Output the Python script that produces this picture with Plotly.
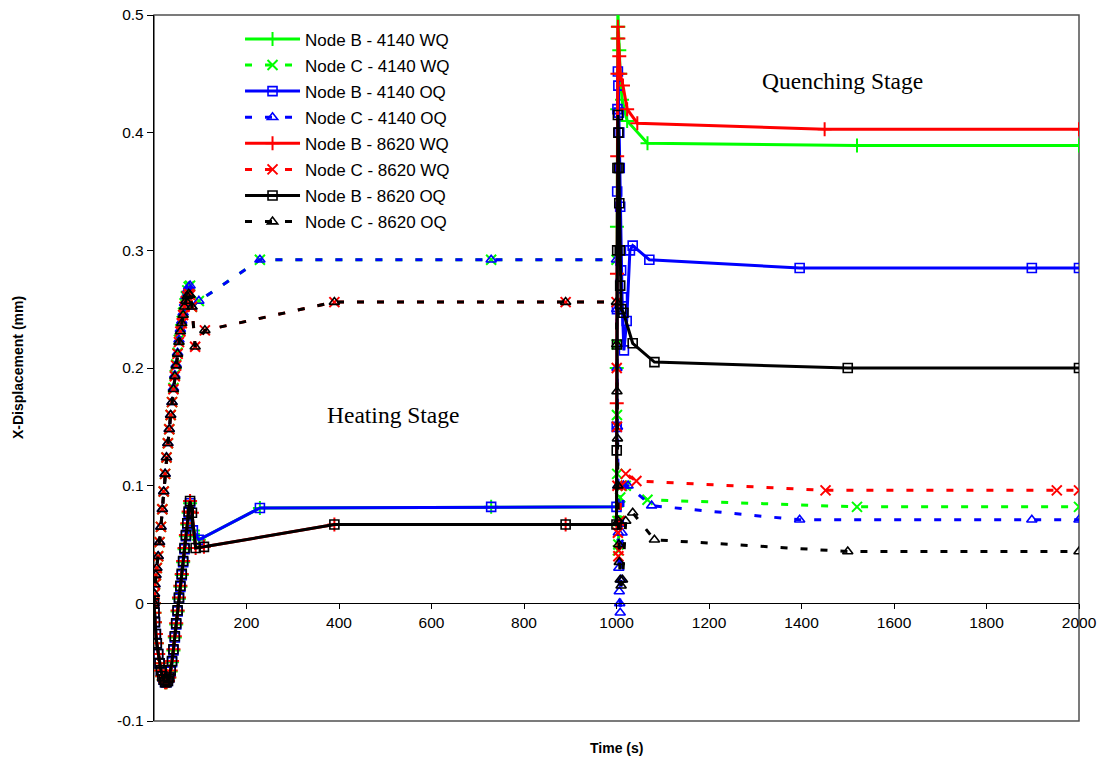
import plotly.graph_objects as go

# ---- Heating stage (0-1000 s) ----
heat_t_rise = [0, 1, 2, 4, 6, 9, 12, 15, 18, 21, 24, 27, 30, 33, 36, 39, 42,
               45, 48, 51, 54, 57, 60, 63, 66, 69, 72, 75, 78]

heat_B_4140_rise = [0, -0.008, -0.016, -0.026, -0.034, -0.043, -0.051, -0.057,
                    -0.062, -0.065, -0.067, -0.067, -0.066, -0.063, -0.058,
                    -0.050, -0.040, -0.029, -0.018, -0.007, 0.004, 0.014,
                    0.024, 0.035, 0.046, 0.057, 0.067, 0.077, 0.085]
heat_B_8620_rise = [0, -0.008, -0.016, -0.026, -0.034, -0.043, -0.051, -0.057,
                    -0.062, -0.065, -0.067, -0.067, -0.066, -0.063, -0.057,
                    -0.049, -0.039, -0.028, -0.017, -0.006, 0.005, 0.015,
                    0.025, 0.036, 0.047, 0.058, 0.068, 0.078, 0.087]
heat_C_4140_rise = [0, 0.008, 0.016, 0.024, 0.030, 0.040, 0.052, 0.065, 0.080,
                    0.095, 0.110, 0.124, 0.136, 0.148, 0.160, 0.171, 0.183,
                    0.194, 0.203, 0.213, 0.224, 0.233, 0.240, 0.247, 0.255,
                    0.261, 0.266, 0.269, 0.270]
heat_C_8620_rise = [0, 0.008, 0.016, 0.024, 0.030, 0.040, 0.052, 0.065, 0.080,
                    0.095, 0.110, 0.124, 0.136, 0.148, 0.160, 0.171, 0.182,
                    0.193, 0.202, 0.212, 0.222, 0.231, 0.238, 0.245, 0.252,
                    0.257, 0.261, 0.263, 0.262]

heat_t_B_4140_tail = [84, 97, 229, 729, 1000]
heat_B_4140_tail = [0.062, 0.054, 0.081, 0.082, 0.082]
heat_t_B_8620_tail = [82, 90, 108, 390, 890, 1000]
heat_B_8620_tail = [0.077, 0.047, 0.048, 0.067, 0.067, 0.067]
heat_t_C_4140_tail = [82, 97, 229, 729, 1000]
heat_C_4140_tail = [0.252, 0.257, 0.292, 0.292, 0.292]
heat_t_C_8620_tail = [82, 89, 110, 390, 890, 1000]
heat_C_8620_tail = [0.252, 0.218, 0.232, 0.256, 0.256, 0.256]

# ---- Quenching stage (1000-2000 s) ----
q_t_B_4140_WQ = [1000.5, 1001, 1001.5, 1002, 1003, 1004, 1006, 1008, 1012, 1023, 1067, 1520, 2000]
q_B_4140_WQ = [0.20, 0.32, 0.42, 0.48, 0.505, 0.49, 0.47, 0.45, 0.428, 0.41, 0.391, 0.389, 0.389]

q_t_C_4140_WQ = [1000.5, 1001, 1001.5, 1002, 1003, 1004, 1006, 1008, 1012, 1020, 1067, 1520, 2000]
q_C_4140_WQ = [0.22, 0.16, 0.11, 0.07, 0.045, 0.05, 0.07, 0.09, 0.10, 0.10, 0.088, 0.082, 0.082]

q_t_B_4140_OQ = [1000.5, 1001, 1001.5, 1002, 1003, 1004, 1005, 1006, 1007, 1008, 1009, 1010,
                 1012, 1016, 1022, 1029, 1035, 1071, 1396, 1898, 2000]
q_B_4140_OQ = [0.15, 0.25, 0.35, 0.42, 0.452, 0.44, 0.417, 0.40, 0.37, 0.337, 0.30, 0.283,
               0.26, 0.215, 0.24, 0.30, 0.304, 0.292, 0.285, 0.285, 0.285]

q_t_C_4140_OQ = [1000.5, 1001, 1002, 1003, 1004, 1005, 1006, 1007, 1008, 1010, 1012, 1015,
                 1025, 1076, 1396, 1898, 2000]
q_C_4140_OQ = [0.25, 0.20, 0.15, 0.10, 0.06, 0.03, 0.01, 0.0, -0.008, 0.02, 0.06, 0.10,
               0.10, 0.083, 0.071, 0.071, 0.071]

q_t_B_8620_WQ = [1000.5, 1001, 1001.5, 1002, 1003, 1004, 1006, 1008, 1014, 1023, 1045, 1450, 2000]
q_B_8620_WQ = [0.17, 0.28, 0.38, 0.45, 0.49, 0.48, 0.465, 0.45, 0.44, 0.42, 0.408, 0.403, 0.403]

q_t_C_8620_WQ = [1000.5, 1001, 1002, 1003, 1004, 1005, 1007, 1010, 1020, 1043, 1452, 1952, 2000]
q_C_8620_WQ = [0.20, 0.15, 0.10, 0.06, 0.04, 0.045, 0.07, 0.10, 0.11, 0.104, 0.096, 0.096, 0.096]

q_t_B_8620_OQ = [1000.5, 1001, 1001.5, 1002, 1003, 1004, 1005, 1006, 1007, 1008, 1010, 1015,
                 1035, 1082, 1500, 2000]
q_B_8620_OQ = [0.13, 0.22, 0.30, 0.37, 0.415, 0.40, 0.37, 0.34, 0.30, 0.27, 0.25, 0.247,
               0.221, 0.205, 0.200, 0.200]

q_t_C_8620_OQ = [1000.5, 1001, 1002, 1003, 1004, 1005, 1006, 1008, 1010, 1013, 1020, 1035,
                 1082, 1500, 2000]
q_C_8620_OQ = [0.22, 0.18, 0.14, 0.10, 0.07, 0.05, 0.035, 0.02, 0.015, 0.02, 0.07, 0.077,
               0.054, 0.044, 0.044]

series_names = ["Node B - 4140 WQ", "Node C - 4140 WQ", "Node B - 4140 OQ", "Node C - 4140 OQ",
                "Node B - 8620 WQ", "Node C - 8620 WQ", "Node B - 8620 OQ", "Node C - 8620 OQ"]

GREEN, BLUE, RED, BLACK = "#00FF00", "#0000FF", "#FF0000", "#000000"
DASH = "7px,13px"

# (heating times, heating values, quench times, quench values, colour, dash, marker symbol)
series = [
    (heat_t_rise + heat_t_B_4140_tail, heat_B_4140_rise + heat_B_4140_tail,
     q_t_B_4140_WQ, q_B_4140_WQ, GREEN, "solid", "cross-thin"),
    (heat_t_rise + heat_t_C_4140_tail, heat_C_4140_rise + heat_C_4140_tail,
     q_t_C_4140_WQ, q_C_4140_WQ, GREEN, DASH, "x-thin"),
    (heat_t_rise + heat_t_B_4140_tail, heat_B_4140_rise + heat_B_4140_tail,
     q_t_B_4140_OQ, q_B_4140_OQ, BLUE, "solid", "square-open"),
    (heat_t_rise + heat_t_C_4140_tail, heat_C_4140_rise + heat_C_4140_tail,
     q_t_C_4140_OQ, q_C_4140_OQ, BLUE, DASH, "triangle-up-open"),
    (heat_t_rise + heat_t_B_8620_tail, heat_B_8620_rise + heat_B_8620_tail,
     q_t_B_8620_WQ, q_B_8620_WQ, RED, "solid", "cross-thin"),
    (heat_t_rise + heat_t_C_8620_tail, heat_C_8620_rise + heat_C_8620_tail,
     q_t_C_8620_WQ, q_C_8620_WQ, RED, DASH, "x-thin"),
    (heat_t_rise + heat_t_B_8620_tail, heat_B_8620_rise + heat_B_8620_tail,
     q_t_B_8620_OQ, q_B_8620_OQ, BLACK, "solid", "square-open"),
    (heat_t_rise + heat_t_C_8620_tail, heat_C_8620_rise + heat_C_8620_tail,
     q_t_C_8620_OQ, q_C_8620_OQ, BLACK, DASH, "triangle-up-open"),
]

fig = go.Figure()
for name, (ht, hv, qt, qv, color, dash, symbol) in zip(series_names, series):
    thin = symbol in ("cross-thin", "x-thin")
    fig.add_trace(go.Scatter(
        x=ht + qt, y=hv + qv, name=name, mode="lines+markers",
        legendgroup=name,
        line=dict(color=color, width=3, dash=dash),
        marker=dict(symbol=symbol, size=10 if thin else 9, color=color,
                    line=dict(color=color, width=2 if thin else 1.6)),
    ))

x_ticks = [200, 400, 600, 800, 1000, 1200, 1400, 1600, 1800, 2000]
y_ticks = [-0.1, 0, 0.1, 0.2, 0.3, 0.4, 0.5]
y_tick_text = ["-0.1", "0", "0.1", "0.2", "0.3", "0.4", "0.5"]

FONT = "Liberation Sans, Arial, sans-serif"
SERIF = "Liberation Serif, Times New Roman, serif"

fig.update_layout(
    width=1101, height=764, autosize=False,
    margin=dict(l=154, r=22, t=15, b=43, autoexpand=False),
    paper_bgcolor="white", plot_bgcolor="white",
    font=dict(family=FONT, size=15.5, color="black"),
    showlegend=True,
    legend=dict(x=0.093, y=0.991, xanchor="left", yanchor="top",
                bgcolor="rgba(0,0,0,0)", borderwidth=0,
                font=dict(family=FONT, size=17),
                itemwidth=55, tracegroupgap=1, traceorder="grouped"),
    xaxis=dict(range=[0, 2000], tickvals=x_ticks, ticktext=[str(v) for v in x_ticks],
               showgrid=False, zeroline=False, showline=True, linecolor="black",
               linewidth=1.3, ticks="outside", ticklen=5, tickcolor="black",
               anchor="free", position=1 / 6,
               tickfont=dict(family=FONT, size=15.5)),
    yaxis=dict(range=[-0.1, 0.5], tickvals=y_ticks, ticktext=y_tick_text,
               showgrid=False, zeroline=False, showline=True, linecolor="black",
               linewidth=1.3, ticks="outside", ticklen=6, tickcolor="black",
               tickfont=dict(family=FONT, size=15.5)),
    shapes=[dict(type="rect", xref="paper", yref="paper", x0=0, x1=1, y0=0, y1=1,
                 line=dict(color="#505050", width=1.5), layer="below")],
    annotations=[
        dict(text="Quenching Stage", x=1488, y=0.444, xref="x", yref="y",
             showarrow=False, font=dict(family=SERIF, size=23.5)),
        dict(text="Heating Stage", x=517, y=0.160, xref="x", yref="y",
             showarrow=False, font=dict(family=SERIF, size=23.5)),
        dict(text="<b>Time (s)</b>", x=0.5005, y=-0.038, xref="paper", yref="paper",
             showarrow=False, xanchor="center", yanchor="middle",
             font=dict(family=FONT, size=14)),
        dict(text="<b>X-Displacement (mm)</b>", x=-0.147, y=0.5, xref="paper", yref="paper",
             showarrow=False, textangle=-90, xanchor="center", yanchor="middle",
             font=dict(family=FONT, size=14)),
    ],
)

fig.write_html("out.html")
